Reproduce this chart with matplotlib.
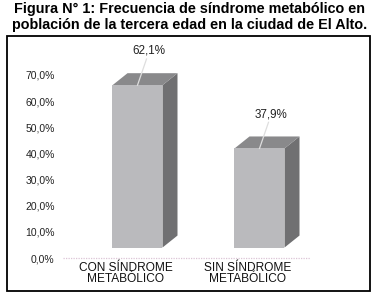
import matplotlib
matplotlib.use("Agg")
import matplotlib.pyplot as plt
from matplotlib.patches import Rectangle, Polygon
from matplotlib.transforms import blended_transform_factory
from matplotlib import font_manager

categories = ["CON SÍNDROME\nMETABÓLICO", "SIN SÍNDROME\nMETABÓLICO"]
values = [62.1, 37.9]
value_labels = ["62,1%", "37,9%"]
ytick_values = [0, 10, 20, 30, 40, 50, 60, 70]
ytick_labels = ["0,0%", "10,0%", "20,0%", "30,0%", "40,0%", "50,0%", "60,0%", "70,0%"]
title = "Figura N° 1: Frecuencia de síndrome metabólico en\npoblación de la tercera edad en la ciudad de El Alto."

names = {f.name for f in font_manager.fontManager.ttflist}
narrow = "Liberation Sans Narrow" if "Liberation Sans Narrow" in names else "Liberation Sans"
plt.rcParams['font.family'] = ['Liberation Sans', 'DejaVu Sans']

W, H = 380, 299
fig = plt.figure(figsize=(W / 100, H / 100), dpi=100)

# frame
fig.patches.append(Rectangle((7 / W, (H - 291) / H), 363 / W, 255 / H, transform=fig.transFigure,
                             fill=False, edgecolor='black', linewidth=1.3))

fig.text(0.5, 1 - 17 / H, title, ha='center', va='center', fontsize=10.4, fontweight='bold',
         linespacing=1.1)

# axes: y 0% at px 258, 1% = 2.614 px; x unit = 122 px, cat 0 at px 126
px_per_pct = 183 / 70
px_per_unit = 122
xmin = -(126 - 63) / px_per_unit
xmax = xmin + (310 - 63) / px_per_unit
ax_bottom = (H - 258) / H
ax_height = 75 * px_per_pct / H
ax = fig.add_axes([63 / W, ax_bottom, 247 / W, ax_height])
ax.set_xlim(xmin, xmax)
ax.set_ylim(0, 75)
for s in ax.spines.values():
    s.set_visible(False)
ax.patch.set_visible(False)
ax.set_yticks(ytick_values)
ax.set_yticklabels(ytick_labels, fontsize=7.5, family=[narrow, 'Liberation Sans'], color='#222222')
ax.tick_params(axis='y', length=0, pad=6)
ax.set_xticks([])
ax.axhline(0, color='#dcc4d6', linestyle=(0, (1, 1)), linewidth=0.9, clip_on=False)

w = 50 / px_per_unit
c = 11.5 / px_per_unit
dx = 15 / px_per_unit
dy = 12 / px_per_pct
base = 4.0
front_col, top_col, side_col = '#bababd', '#89898b', '#707072'

for i, v in enumerate(values):
    x0 = i + c - w / 2
    x1 = x0 + w
    y0, y1 = base, base + v
    ax.add_patch(Polygon([(x1, y0), (x1 + dx, y0 + dy), (x1 + dx, y1 + dy), (x1, y1)],
                         closed=True, facecolor=side_col, edgecolor='none', zorder=2))
    ax.add_patch(Polygon([(x0, y1), (x1, y1), (x1 + dx, y1 + dy), (x0 + dx, y1 + dy)],
                         closed=True, facecolor=top_col, edgecolor='none', zorder=2))
    ax.add_patch(Rectangle((x0, y0), w, v, facecolor=front_col, edgecolor='none', zorder=3))
    xc = x0 + w / 2
    lx, ly = xc + 9 / px_per_unit, y1 + 10
    ax.plot([xc, lx], [y1, ly], color='#dedede', linewidth=0.9, zorder=4, clip_on=False)
    ax.text(lx + 2 / px_per_unit, ly + 0.8, value_labels[i], ha='center', va='bottom',
            fontsize=8.4, family=[narrow, 'Liberation Sans'], color='#222222', clip_on=False)

trans = blended_transform_factory(ax.transData, fig.transFigure)
for i, lab in enumerate(categories):
    ax.text(i, 1 - 262 / H, lab, transform=trans, ha='center', va='top', fontsize=8.6,
            family=[narrow, 'Liberation Sans'], color='#111111', linespacing=0.85)

fig.savefig("out.png", dpi=100)
